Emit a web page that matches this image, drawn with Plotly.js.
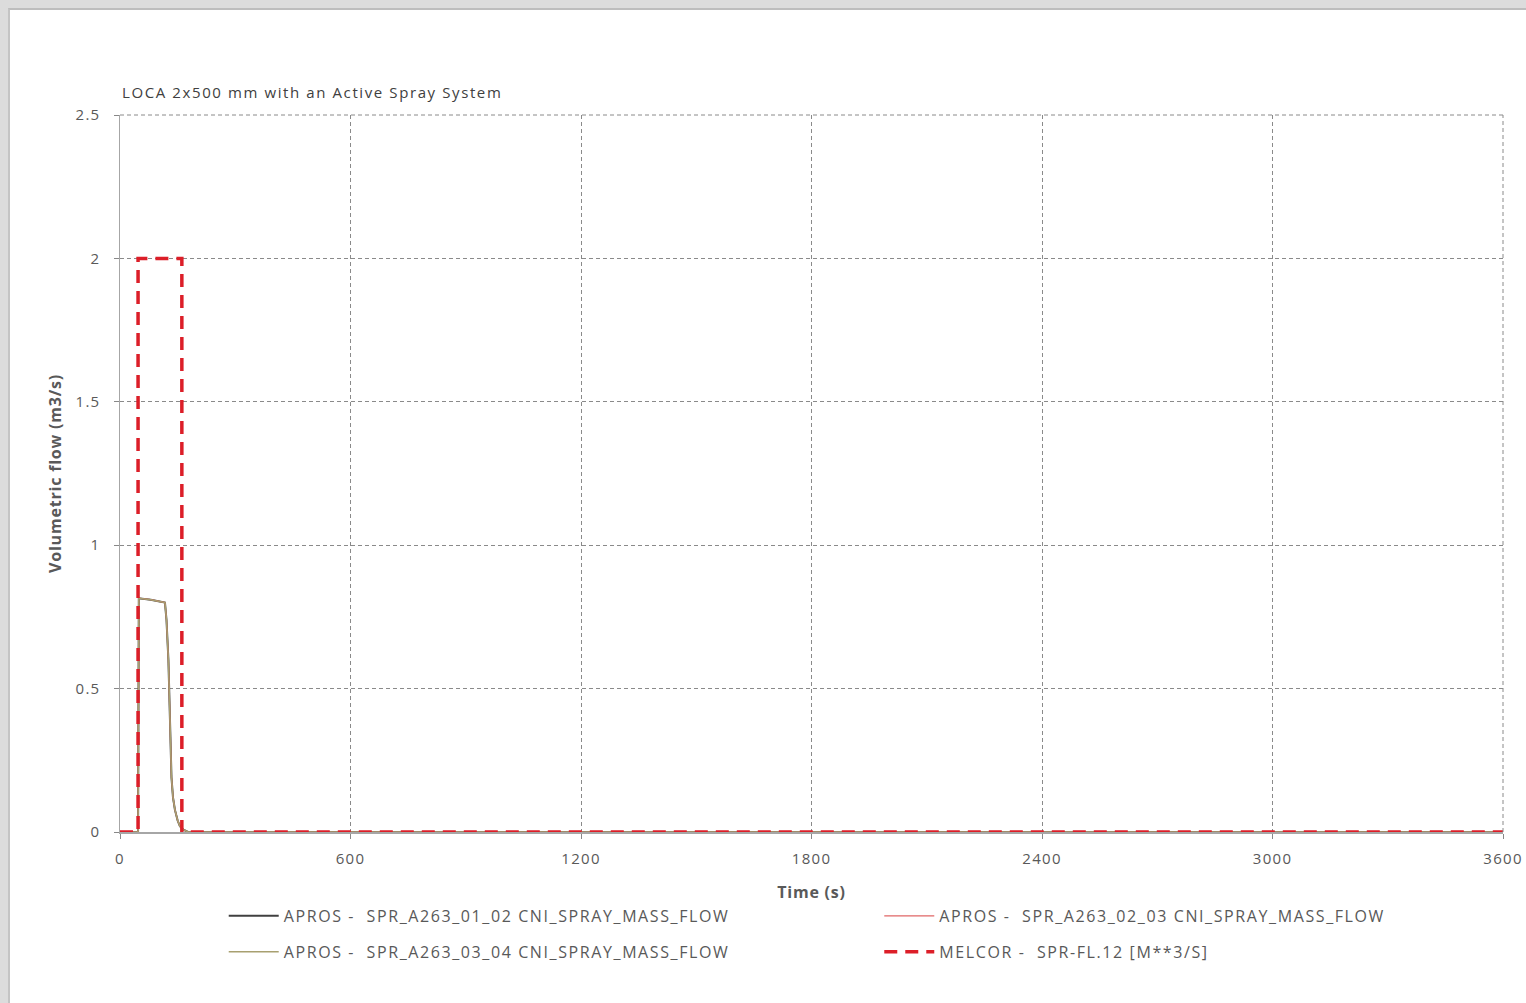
<!DOCTYPE html>
<html>
<head>
<meta charset="utf-8">
<script src="https://cdn.plot.ly/plotly-3.0.1.min.js"></script>
<style>
  html, body { margin: 0; padding: 0; background: #dcdcdc; width: 1526px; height: 1003px; overflow: hidden; }
  #chart { position: absolute; left: 8px; top: 8px; width: 1516px; height: 993px; background: #ffffff;
           border-left: 2px solid #c4c4c4; border-top: 2px solid #bdbdbd; }
  /* loose tracking on chart text */
  #chart .gtitle { letter-spacing: 1.6px; }
  #chart .xtick text, #chart .ytick text { letter-spacing: 1.3px; }
  #chart .xtitle, #chart .ytitle { letter-spacing: 0.8px; }
</style>
</head>
<body>
<div id="chart"></div>
<script>
// Spray flow during LOCA 2x500 mm, time in seconds
const melcorTime = [0, 47, 47, 161, 161, 3600];
const melcorFlow = [0, 0, 2.0, 2.0, 0, 0];

const aprosTime = [0, 47, 49, 80, 117, 121, 126, 130, 134, 138, 143, 150, 156, 165, 177, 200, 3600];
const apros0102 = [0, 0, 0.815, 0.81, 0.80, 0.74, 0.60, 0.37, 0.19, 0.12, 0.077, 0.04, 0.02, 0.008, 0, 0, 0];
const apros0203 = [0, 0, 0.815, 0.81, 0.80, 0.74, 0.60, 0.37, 0.19, 0.12, 0.077, 0.04, 0.02, 0.008, 0, 0, 0];
const apros0304 = [0, 0, 0.815, 0.81, 0.80, 0.74, 0.60, 0.37, 0.19, 0.12, 0.077, 0.04, 0.02, 0.008, 0, 0, 0];

const xTicks = [0, 600, 1200, 1800, 2400, 3000, 3600];
const yTicks = [0, 0.5, 1, 1.5, 2, 2.5];
const yTickText = ['0', '0.5', '1', '1.5', '2', '2.5'];

const seriesNames = [
  'APROS -  SPR_A263_01_02 CNI_SPRAY_MASS_FLOW',
  'APROS -  SPR_A263_02_03 CNI_SPRAY_MASS_FLOW',
  'APROS -  SPR_A263_03_04 CNI_SPRAY_MASS_FLOW',
  'MELCOR -  SPR-FL.12 [M**3/S]'
];

const FONT = 'Open Sans, Liberation Sans, sans-serif';
const textGrey = '#595959';

const traces = [
  { x: aprosTime, y: apros0102, name: seriesNames[0], mode: 'lines', legend: 'legend',
    line: { color: '#404040', width: 2 } },
  { x: aprosTime, y: apros0203, name: seriesNames[1], mode: 'lines', legend: 'legend2',
    line: { color: '#e06666', width: 1.2 } },
  { x: aprosTime, y: apros0304, name: seriesNames[2], mode: 'lines', legend: 'legend3',
    line: { color: '#a8a070', width: 1.5 } },
  { x: melcorTime, y: melcorFlow, name: seriesNames[3], mode: 'lines', legend: 'legend4',
    line: { color: '#dc1e28', width: 3.5, dash: '13px,8px' } }
];

function legendAt(x, y) {
  return { x: x, y: y, xanchor: 'left', yanchor: 'middle', orientation: 'h',
           bgcolor: 'rgba(0,0,0,0)', itemwidth: 50,
           entrywidth: 520, entrywidthmode: 'pixels',
           font: { family: FONT, size: 16, color: textGrey } };
}

const layout = {
  width: 1516, height: 993,
  margin: { l: 110, r: 23, t: 105, b: 171 },
  paper_bgcolor: '#ffffff', plot_bgcolor: '#ffffff',
  font: { family: FONT, size: 14, color: textGrey },
  title: { text: 'LOCA 2x500 mm with an Active Spray System',
           x: 0, xref: 'paper', xanchor: 'left', y: 1, yref: 'paper', yanchor: 'bottom',
           pad: { b: 17, l: 2 }, font: { family: FONT, size: 15, color: '#404040' } },
  xaxis: {
    range: [0, 3600], tickvals: xTicks, ticks: 'outside', ticklen: 5, tickcolor: '#888888',
    ticklabelstandoff: 7,
    showgrid: true, gridcolor: '#8a8a8a', griddash: '4px,3px', gridwidth: 1,
    showline: true, linecolor: '#a6a6a6', linewidth: 1.5, zeroline: false,
    title: { text: '<b>Time (s)</b>', standoff: 20, font: { family: FONT, size: 16, color: textGrey } },
    tickfont: { family: FONT, size: 15, color: textGrey }
  },
  yaxis: {
    range: [0, 2.5], tickvals: yTicks, ticktext: yTickText, ticks: 'outside', ticklen: 5, tickcolor: '#888888',
    ticklabelstandoff: 10,
    showgrid: true, gridcolor: '#8a8a8a', griddash: '4px,3px', gridwidth: 1,
    showline: true, linecolor: '#a6a6a6', linewidth: 1.5, zeroline: false,
    title: { text: '<b>Volumetric flow (m3/s)</b>', standoff: 14, font: { family: FONT, size: 16, color: textGrey } },
    tickfont: { family: FONT, size: 15, color: textGrey }
  },
  shapes: [
    { type: 'line', xref: 'paper', yref: 'paper', x0: 0, x1: 1, y0: 1, y1: 1,
      line: { color: '#8a8a8a', width: 1, dash: '4px,3px' } },
    { type: 'line', xref: 'paper', yref: 'paper', x0: 1, x1: 1, y0: 0, y1: 1,
      line: { color: '#8a8a8a', width: 1, dash: '4px,3px' } }
  ],
  showlegend: true,
  legend: legendAt(0.075, -0.117),
  legend2: legendAt(0.549, -0.117),
  legend3: legendAt(0.075, -0.167),
  legend4: legendAt(0.549, -0.167)
};

const gd = document.getElementById('chart');

// widen the tracking of every legend label
function spaceLegendText() {
  gd.querySelectorAll('text').forEach(function (t) {
    const s = t.textContent || '';
    if (seriesNames.some(function (n) { return n.replace(/\s+/g, ' ') === s.replace(/\s+/g, ' '); })) {
      t.style.letterSpacing = '1.6px';
    }
  });
}

Plotly.newPlot(gd, traces, layout, { displayModeBar: false, staticPlot: true }).then(function () {
  spaceLegendText();
  setTimeout(spaceLegendText, 0);
  setTimeout(spaceLegendText, 200);
});
</script>
</body>
</html>
